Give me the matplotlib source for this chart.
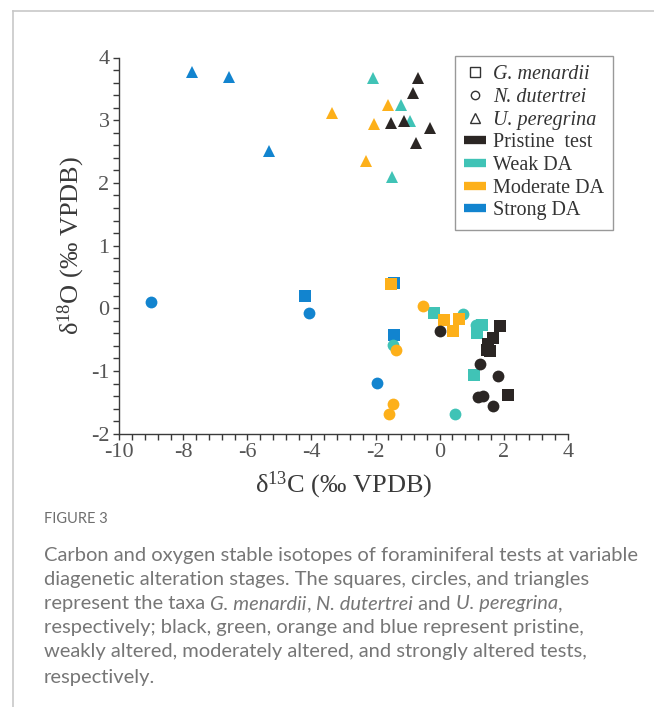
import matplotlib
matplotlib.use("Agg")
import matplotlib.pyplot as plt
from matplotlib.lines import Line2D
from matplotlib.ticker import MultipleLocator

# ---- datos ----
# G. menardii (cuadrados)
gm_d13c = [1.90, 1.68, 1.52, 1.57, 1.47, 2.14, -0.17, 1.31, 1.18, 1.06,
           -1.52, 0.14, 0.60, 0.42, -1.41, -1.42, -4.20]
gm_d18o = [-0.29, -0.47, -0.57, -0.68, -0.66, -1.39, -0.07, -0.26, -0.39, -1.06,
           0.38, -0.19, -0.17, -0.36, 0.40, -0.42, 0.19]
gm_stage = ["P", "P", "P", "P", "P", "P", "W", "W", "W", "W",
            "M", "M", "M", "M", "S", "S", "S"]

# N. dutertrei (círculos)
nd_d13c = [0.01, 1.25, 1.83, 1.21, 1.35, 1.68, 0.74, 1.14, -1.45, 0.48,
           -0.53, -1.37, -1.46, -1.58, -1.96, -9.00, -4.07]
nd_d18o = [-0.36, -0.89, -1.08, -1.42, -1.40, -1.56, -0.09, -0.26, -0.59, -1.69,
           0.03, -0.66, -1.52, -1.69, -1.19, 0.10, -0.07]
nd_stage = ["P", "P", "P", "P", "P", "P", "W", "W", "W", "W",
            "M", "M", "M", "M", "S", "S", "S"]

# U. peregrina (triángulos)
up_d13c = [-0.68, -0.83, -1.53, -1.10, -0.31, -0.75, -2.09, -1.20, -0.92, -1.48,
           -1.61, -3.37, -2.06, -2.29, -7.73, -6.57, -5.34]
up_d18o = [3.68, 3.43, 2.96, 2.99, 2.88, 2.63, 3.67, 3.25, 2.99, 2.10,
           3.25, 3.12, 2.94, 2.35, 3.77, 3.69, 2.51]
up_stage = ["P", "P", "P", "P", "P", "P", "W", "W", "W", "W",
            "M", "M", "M", "M", "S", "S", "S"]

taxa_labels = ["G. menardii", "N. dutertrei", "U. peregrina"]
stage_codes = ["P", "W", "M", "S"]
stage_labels = ["Pristine  test", "Weak DA", "Moderate DA", "Strong DA"]
stage_colors = {"P": "#2b2624", "W": "#40c3b6", "M": "#fdb01a", "S": "#1284cf"}

plt.rcParams["mathtext.fontset"] = "custom"
plt.rcParams["mathtext.rm"] = "Liberation Serif"
plt.rcParams["axes.unicode_minus"] = False
serif = "Liberation Serif"

W, H = 654, 707
fig = plt.figure(figsize=(W / 100, H / 100), dpi=100)
fig.patch.set_facecolor("white")

# marco gris de la página
fig.add_artist(Line2D([13 / W, 13 / W], [0, 1 - 11 / H], color="#c8c8c8", lw=1.2,
                      transform=fig.transFigure))
fig.add_artist(Line2D([13 / W, 1], [1 - 11 / H, 1 - 11 / H], color="#c8c8c8", lw=1.2,
                      transform=fig.transFigure))

ax = fig.add_axes([119.3 / W, 1 - 433.7 / H, 448.4 / W, 376.2 / H])

series = [(gm_d13c, gm_d18o, gm_stage, "s", 8),
          (nd_d13c, nd_d18o, nd_stage, "o", 8.5),
          (up_d13c, up_d18o, up_stage, "^", 8.5)]

# orden de dibujo: azul, verde, naranja, negro
for st in ["S", "W", "M", "P"]:
    for xs, ys, stg, mk, ms in series:
        px = [x for x, s in zip(xs, stg) if s == st]
        py = [y for y, s in zip(ys, stg) if s == st]
        ax.plot(px, py, ls="none", marker=mk, ms=ms, color=stage_colors[st],
                mew=0, clip_on=False)

ax.set_xlim(-10, 4)
ax.set_ylim(-2, 4)
ax.xaxis.set_major_locator(MultipleLocator(2))
ax.xaxis.set_minor_locator(MultipleLocator(0.4))
ax.yaxis.set_major_locator(MultipleLocator(1))
ax.yaxis.set_minor_locator(MultipleLocator(0.2))

for side in ["top", "right"]:
    ax.spines[side].set_visible(False)
for side in ["left", "bottom"]:
    ax.spines[side].set_color("#3a3a3a")
    ax.spines[side].set_linewidth(1.0)

ax.tick_params(which="both", direction="out", length=4, width=1, color="#3a3a3a")
ax.tick_params(which="major", labelsize=16, labelcolor="#555555", pad=3)
for lab in ax.get_xticklabels() + ax.get_yticklabels():
    lab.set_fontfamily(serif)

ax.set_xlabel(r"$\mathregular{\delta^{13}}$C (‰ VPDB)", fontsize=19, family=serif,
              color="#3a3a3a", labelpad=5)
ax.set_ylabel(r"$\mathregular{\delta^{18}}$O (‰ VPDB)", fontsize=19, family=serif,
              color="#3a3a3a", labelpad=3)

# leyenda
handles = [
    Line2D([], [], ls="none", marker="s", mfc="none", mec="#333333", ms=7, mew=1),
    Line2D([], [], ls="none", marker="o", mfc="none", mec="#333333", ms=6, mew=1),
    Line2D([], [], ls="none", marker="^", mfc="none", mec="#333333", ms=7, mew=1),
]
for st in stage_codes:
    handles.append(Line2D([], [], color=stage_colors[st], lw=6, solid_capstyle="butt"))
leg = ax.legend(handles, taxa_labels + stage_labels, loc="upper left",
                bbox_to_anchor=(455 / W, 1 - 56 / H), bbox_transform=fig.transFigure,
                borderaxespad=0, frameon=True, fancybox=False, framealpha=1,
                prop={"family": serif, "size": 14.5}, handlelength=1.1,
                handletextpad=0.35, labelspacing=0.18, borderpad=0.45)
leg.get_frame().set_edgecolor("#999999")
leg.get_frame().set_linewidth(1.0)
for i, t in enumerate(leg.get_texts()):
    t.set_color("#333333")
    if i < 3:
        t.set_style("italic")

# pie de figura
cap_color = "#767676"
cap_font = "Lato"
fig.text(44 / W, 1 - 519 / H, "FIGURE 3", fontsize=10.5, family=cap_font,
         color="#6e6e6e", va="center", ha="left")

lines = [
    [("Carbon and oxygen stable isotopes of foraminiferal tests at variable", "normal")],
    [("diagenetic alteration stages. The squares, circles, and triangles", "normal")],
    [("represent the taxa ", "normal"), ("G. menardii", "italic"), (", ", "normal"),
     ("N. dutertrei", "italic"), (" and ", "normal"), ("U. peregrina", "italic"),
     (",", "normal")],
    [("respectively; black, green, orange and blue represent pristine,", "normal")],
    [("weakly altered, moderately altered, and strongly altered tests,", "normal")],
    [("respectively.", "normal")],
]
line_y = [555, 580, 604, 628, 652, 677]

renderer = fig.canvas.get_renderer()
for pieces, yy in zip(lines, line_y):
    x = 44.0
    for s, style in pieces:
        t = fig.text(x / W, 1 - yy / H, s, fontsize=14.5, family=cap_font,
                     style=style, color=cap_color, va="center", ha="left")
        x += t.get_window_extent(renderer).width

fig.savefig("out.png", dpi=100)
